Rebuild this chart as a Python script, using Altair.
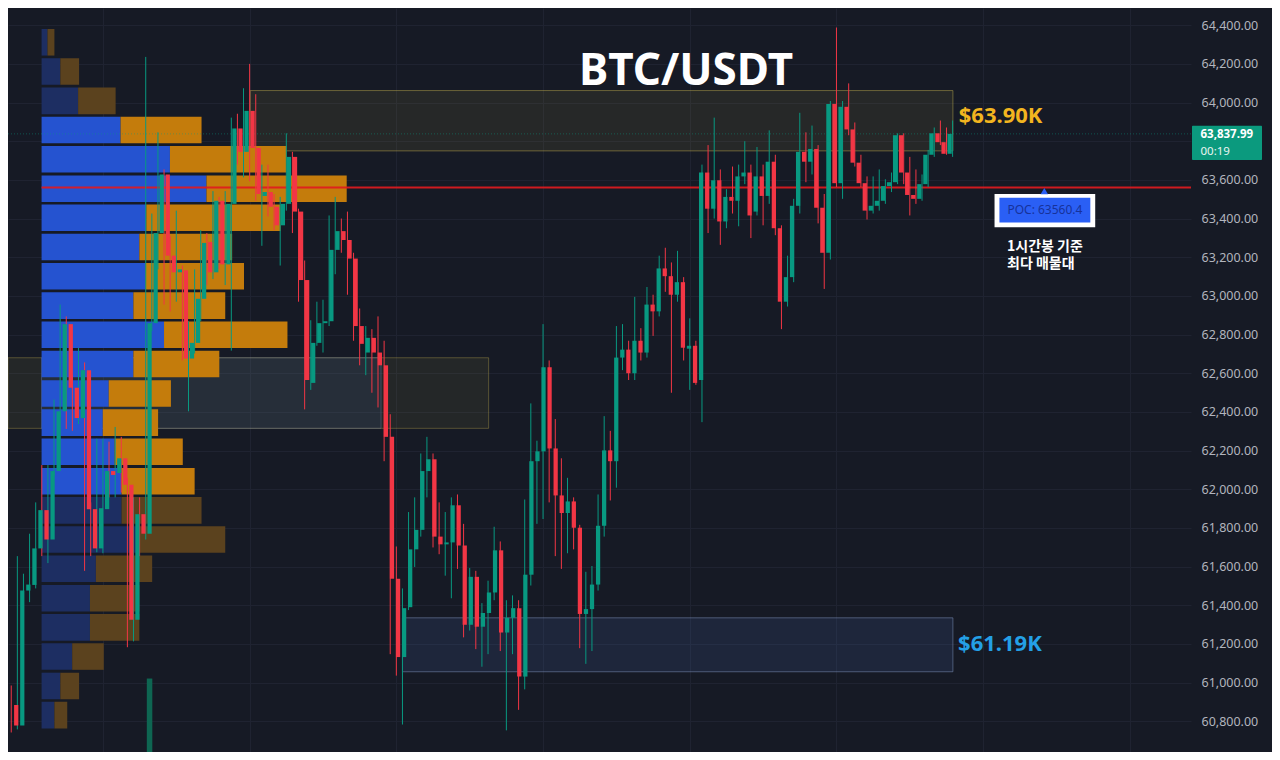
import altair as alt
import pandas as pd

# ---------------- data ----------------
opens = [60884, 60778, 61476, 61505, 61694, 61892, 61740, 62094, 62403, 62854,
         62525, 62368, 62616, 61897, 61694, 61897, 62094, 62084, 62160, 62023,
         61325, 61871, 61770, 62859, 63325, 63628, 63208, 63122, 63132, 62676,
         62757, 62985, 63279, 63122, 63492, 63163, 63476, 63866, 63745, 63957,
         63765, 63517, 63537, 63461, 63365, 63476, 63719, 63436, 63082, 62550,
         62757, 62859, 62869, 63238, 63335, 63289, 63193, 62844, 62707, 62783,
         62707, 62641, 62271, 61537, 61132, 61390, 61689, 61790, 62094, 62155,
         61755, 61715, 61725, 61917, 61709, 61299, 61547, 61289, 61360, 61466,
         61684, 61259, 61335, 61385, 61031, 61558, 62145, 62196, 62631, 62211,
         61968, 61877, 61937, 61801, 61355, 61380, 61507, 61811, 62201, 62145,
         62681, 62722, 62600, 62768, 62707, 62955, 62920, 63142, 63102, 63006,
         63071, 62727, 62742, 62565, 63638, 63451, 63598, 63385, 63512, 63492,
         63618, 63638, 63436, 63618, 63517, 63694, 63350, 62970, 63097, 63466,
         63745, 63694, 63760, 63456, 63223, 63993, 63583, 63978, 63861, 63689,
         63583, 63441, 63466, 63492, 63568, 63588, 63831, 63638, 63522, 63502,
         63578, 63730, 63841, 63795, 63735]
highs = [60985, 61654, 61563, 61770, 61932, 62125, 62125, 62464, 62955, 62894,
         62590, 62732, 62656, 61932, 62261, 62261, 62246, 62322, 62271, 62059,
         61958, 61958, 64236, 63426, 63846, 63654, 63309, 63441, 63157, 62869,
         63137, 63340, 63325, 63542, 63512, 63542, 63922, 63942, 64074, 64200,
         64043, 63679, 63679, 63527, 63512, 63841, 63745, 63451, 63183, 62874,
         62970, 62980, 63416, 63512, 63400, 63436, 63223, 62935, 62844, 62828,
         62894, 62768, 62388, 61704, 61487, 61882, 61958, 62185, 62271, 62185,
         61932, 61882, 61958, 61973, 61821, 61593, 61578, 61411, 61527, 61806,
         61730, 61426, 61451, 61426, 61947, 62444, 62251, 62854, 62666, 62363,
         62160, 62059, 61958, 61816, 61573, 61603, 61973, 62378, 62302, 62844,
         62854, 62768, 62995, 62833, 63046, 63006, 63208, 63249, 63173, 63233,
         63097, 62884, 62768, 63679, 63780, 63922, 63654, 63552, 63669, 63679,
         63800, 63679, 63770, 63679, 63856, 63730, 63365, 63208, 63502, 63947,
         63846, 63881, 63780, 63527, 64008, 64388, 64008, 64099, 63897, 63730,
         63618, 63618, 63654, 63603, 63638, 63841, 63841, 63719, 63654, 63628,
         63755, 63871, 63907, 63871, 63907]
lows = [60742, 60758, 61350, 61416, 61487, 61654, 61618, 62069, 62373, 62312,
        62302, 62337, 61578, 61654, 61674, 61669, 61958, 61958, 61983, 61183,
        61213, 61654, 61740, 62818, 63137, 62955, 62920, 62970, 62666, 62403,
        62702, 62869, 63056, 63087, 63137, 63056, 62717, 63679, 63613, 63593,
        63492, 63259, 63411, 63340, 63157, 63441, 63325, 62970, 62413, 62514,
        62742, 62707, 62844, 63112, 63223, 63006, 62768, 62641, 62590, 62499,
        62423, 62145, 61147, 61036, 60783, 61375, 61598, 61755, 61958, 61699,
        61664, 61553, 61436, 61588, 61234, 61269, 61173, 61082, 61147, 61426,
        61163, 60753, 61147, 60859, 60965, 61502, 61821, 61846, 61932, 61654,
        61588, 61669, 61689, 61178, 61097, 61163, 61476, 61755, 61942, 62008,
        62616, 62565, 62565, 62666, 62681, 62793, 62894, 63021, 62499, 62970,
        62666, 62514, 62540, 62347, 63325, 63400, 63264, 63350, 63426, 63360,
        63578, 63299, 63416, 63365, 63476, 63314, 62828, 62945, 63071, 63426,
        63588, 63628, 63375, 63036, 63188, 63563, 63502, 63831, 63669, 63563,
        63395, 63426, 63441, 63476, 63537, 63578, 63578, 63416, 63476, 63492,
        63563, 63719, 63780, 63730, 63719]
closes = [60778, 61476, 61507, 61694, 61892, 61740, 62094, 62403, 62854, 62525,
          62368, 62616, 61897, 61694, 61902, 62094, 62074, 62160, 62023, 61325,
          61871, 61770, 62859, 63325, 63628, 63208, 63122, 63137, 62676, 62757,
          62985, 63274, 63122, 63492, 63163, 63476, 63866, 63745, 63957, 63765,
          63527, 63537, 63461, 63365, 63476, 63719, 63436, 63082, 62565, 62757,
          62859, 62869, 63238, 63335, 63289, 63193, 62844, 62752, 62783, 62707,
          62641, 62271, 61537, 61132, 61385, 61689, 61790, 62094, 62155, 61755,
          61715, 61725, 61917, 61709, 61299, 61547, 61289, 61360, 61466, 61684,
          61259, 61335, 61385, 61031, 61558, 62145, 62196, 62631, 62211, 61968,
          61877, 61937, 61801, 61355, 61380, 61507, 61811, 62201, 62145, 62681,
          62722, 62600, 62768, 62707, 62955, 62920, 63142, 63102, 63006, 63071,
          62732, 62742, 62550, 63638, 63451, 63598, 63385, 63512, 63492, 63618,
          63638, 63416, 63618, 63517, 63694, 63350, 62970, 63097, 63466, 63745,
          63694, 63760, 63456, 63223, 63993, 63583, 63978, 63861, 63689, 63583,
          63441, 63466, 63492, 63568, 63588, 63831, 63638, 63522, 63502, 63578,
          63730, 63841, 63795, 63735, 63837.99]

price_ticks = [60800, 61000, 61200, 61400, 61600, 61800, 62000, 62200, 62400, 62600,
               62800, 63000, 63200, 63400, 63600, 63800, 64000, 64200, 64400]
hidden_tick = 63800  # covered by the live-price tag in the reference
day_lines = [15, 39, 63, 87, 111, 135, 159, 183]

# volume profile (rows from bottom to top)
profile_bin_low = [60756, 60907, 61059, 61210, 61361, 61513, 61664, 61815, 61966, 62118,
                   62269, 62420, 62572, 62723, 62874, 63026, 63177, 63328, 63479, 63631,
                   63782, 63933, 64085, 64236]
profile_bin_size = 151.3
buy_vol = [130, 190, 310, 490, 490, 550, 990, 810, 810, 740, 620, 680,
           930, 1240, 930, 1050, 990, 1060, 1670, 1300, 800, 370, 190, 60]
sell_vol = [130, 190, 320, 500, 500, 570, 870, 810, 740, 690, 560, 630,
            870, 1250, 930, 1000, 940, 1360, 1420, 1180, 820, 380, 190, 70]
value_area_low = 61966
value_area_high = 63933
poc_price = 63560.4
last_price = 63837.99

# zones: left supply, left value box, upper resistance, lower support
zone_names = ["left_supply", "left_box", "upper", "lower"]
zone_x_start = [-0.53, 4.96, 39.1, 64.0]
zone_x_end = [78.1, 60.5, 154.05, 154.05]
zone_low = [62315, 62315, 63750, 61056]
zone_high = [62680, 62680, 64062, 61335]

spike_index = [22]
spike_top = [61021]

# ---------------- layout / style ----------------
W, H = 1183, 744
X_DOM = [-0.53, 193.0]
Y_DOM = [60641, 64489]
P_DOM = [-340, 11640]
BG = "#161a25"
GRID = "#1f2331"
GREEN = "#089981"
RED = "#f23645"
FONT = "Noto Sans"

XS = alt.Scale(domain=X_DOM, nice=False, zero=False)
YS = alt.Scale(domain=Y_DOM, nice=False, zero=False)
PS = alt.Scale(domain=P_DOM, nice=False, zero=False)

yaxis = alt.Axis(orient="right", values=price_ticks, format=",.2f", grid=True,
                 labelExpr=f"datum.value == {hidden_tick} ? '' : datum.label",
                 gridColor=GRID, gridWidth=1, domain=False, ticks=False, tickSize=0,
                 labelPadding=10, labelColor="#b2b5be", labelFont=FONT,
                 labelFontSize=12.5, labelOverlap=False, labelFlush=False, title=None)
xaxis = alt.Axis(values=day_lines, grid=True, gridColor=GRID, gridWidth=1,
                 labels=False, ticks=False, domain=False, title=None)


def X(field, axis=None):
    return alt.X(field, type="quantitative", scale=XS, axis=axis)


def Y(field):
    return alt.Y(field, type="quantitative", scale=YS, axis=yaxis)


# ---------------- frames ----------------
candles = pd.DataFrame({"i": list(range(len(opens))), "open": opens, "high": highs,
                        "low": lows, "close": closes})
candles["dir"] = ["up" if c >= o else "down" for o, c in zip(opens, closes)]

prof = pd.DataFrame({"lo": profile_bin_low, "buy": buy_vol, "sell": sell_vol})
prof["zero"] = 0
prof["total"] = prof["buy"] + prof["sell"]
prof["y1"] = prof["lo"] + 7
prof["y2"] = prof["lo"] + profile_bin_size - 7
va = [(lo >= value_area_low) and (lo < value_area_high) for lo in profile_bin_low]
prof["bc"] = ["#2553d0" if v else "#1d2e62" for v in va]
prof["sc"] = ["#c47c0c" if v else "#5b421e" for v in va]

zones = pd.DataFrame({"name": zone_names, "x0": zone_x_start, "x1": zone_x_end,
                      "lo": zone_low, "hi": zone_high})

# ---------------- layers ----------------
zone_layer = alt.Chart(zones).mark_rect(strokeWidth=1).encode(
    x=X("x0", xaxis), x2="x1", y=Y("lo"), y2="hi",
    fill=alt.Fill("name:N", legend=None, scale=alt.Scale(
        domain=zone_names,
        range=["rgba(210,200,80,0.075)", "rgba(60,90,160,0.14)",
               "rgba(210,200,80,0.085)", "rgba(70,100,170,0.17)"])),
    stroke=alt.Stroke("name:N", legend=None, scale=alt.Scale(
        domain=zone_names,
        range=["rgba(200,180,80,0.35)", "rgba(130,150,190,0.35)",
               "rgba(200,180,80,0.45)", "rgba(130,150,190,0.5)"])),
)

buy_layer = alt.Chart(prof).mark_rect().encode(
    x=alt.X("zero:Q", scale=PS, axis=None), x2="buy:Q",
    y=Y("y1"), y2="y2", color=alt.Color("bc:N", scale=None))
sell_layer = alt.Chart(prof).mark_rect().encode(
    x=alt.X("buy:Q", scale=PS, axis=None), x2="total:Q",
    y=Y("y1"), y2="y2", color=alt.Color("sc:N", scale=None))

poc_df = pd.DataFrame({"x0": [4.96], "x1": [X_DOM[1]], "p": [poc_price]})
poc_line = alt.Chart(poc_df).mark_rule(color="#e01a1f", strokeWidth=2, opacity=0.92).encode(
    x=X("x0"), x2="x1", y=Y("p"))

last_df = pd.DataFrame({"x0": [X_DOM[0]], "x1": [X_DOM[1]], "p": [last_price]})
last_line = alt.Chart(last_df).mark_rule(color=GREEN, strokeWidth=1, strokeDash=[1, 2],
                                         opacity=0.45).encode(
    x=X("x0"), x2="x1", y=Y("p"))

spike_df = pd.DataFrame({"i": spike_index, "top": spike_top, "bottom": [Y_DOM[0]]})
spike = alt.Chart(spike_df).mark_bar(size=5.5, color="#0e6652").encode(
    x=X("i"), y=Y("top"), y2="bottom")

dir_color = alt.Color("dir:N", legend=None,
                      scale=alt.Scale(domain=["up", "down"], range=[GREEN, RED]))
wicks = alt.Chart(candles).mark_rule(strokeWidth=1).encode(
    x=X("i"), y=Y("low"), y2="high", color=dir_color)
bodies = alt.Chart(candles).mark_bar(size=4.25).encode(
    x=X("i"), y=Y("open"), y2="close", color=dir_color)

# ---------------- annotations ----------------
title_df = pd.DataFrame({"i": [110.4], "p": [64093], "t": ["BTC/USDT"]})
title = alt.Chart(title_df).mark_text(font=FONT, fontWeight="bold", fontSize=44,
                                      color="#ffffff", align="center",
                                      baseline="alphabetic").encode(
    x=X("i"), y=Y("p"), text="t:N")

lvl_df = pd.DataFrame({"i": [155.0, 154.9], "p": [63895, 61163],
                       "t": ["$63.90K", "$61.19K"], "c": ["#f2b51f", "#24a0e6"]})
lvl_text = alt.Chart(lvl_df).mark_text(font=FONT, fontWeight="bold", fontSize=22,
                                       align="left", baseline="alphabetic").encode(
    x=X("i"), y=Y("p"), text="t:N", color=alt.Color("c:N", scale=None))

box_df = pd.DataFrame({"x0": [160.86, 161.66], "x1": [177.33, 176.53],
                       "lo": [63355, 63380], "hi": [63527, 63507],
                       "c": ["#ffffff", "#2a5ff5"]})
poc_box = alt.Chart(box_df).mark_rect().encode(
    x=X("x0"), x2="x1", y=Y("lo"), y2="hi", color=alt.Color("c:N", scale=None))

tri_df = pd.DataFrame({"i": [169.0], "p": [63542]})
poc_tri = alt.Chart(tri_df).mark_point(shape="triangle-up", filled=True, size=55,
                                       color="#2a5ff5", opacity=1).encode(
    x=X("i"), y=Y("p"))

poc_txt_df = pd.DataFrame({"i": [169.1], "p": [63442], "t": ["POC: 63560.4"]})
poc_txt = alt.Chart(poc_txt_df).mark_text(font=FONT, fontSize=12, color="#17329a",
                                          align="center", baseline="middle").encode(
    x=X("i"), y=Y("p"), text="t:N")

kr_df = pd.DataFrame({"i": [162.9, 162.9], "p": [63233, 63142],
                      "t": ["1시간봉 기준", "최다 매물대"]})
kr_txt = alt.Chart(kr_df).mark_text(font="Noto Sans CJK KR", fontWeight="bold",
                                    fontSize=14, color="#ffffff", align="left",
                                    baseline="alphabetic").encode(
    x=X("i"), y=Y("p"), text="t:N")

tag_df = pd.DataFrame({"lo": [63703], "hi": [63880]})
tag = alt.Chart(tag_df).mark_rect(color="#0b9a7e", cornerRadius=1).encode(
    x=alt.value(W + 1), x2=alt.value(W + 71), y=Y("lo"), y2="hi")
tag_txt_df = pd.DataFrame({"p": [63817, 63731], "t": ["63,837.99", "00:19"]})
tag_txt1 = alt.Chart(tag_txt_df.iloc[[0]]).mark_text(
    font=FONT, fontSize=11.5, fontWeight="bold", color="#ffffff", align="left",
    baseline="alphabetic").encode(x=alt.value(W + 9.5), y=Y("p"), text="t:N")
tag_txt2 = alt.Chart(tag_txt_df.iloc[[1]]).mark_text(
    font=FONT, fontSize=11.5, color="#e8f5f1", align="left",
    baseline="alphabetic").encode(x=alt.value(W + 9.5), y=Y("p"), text="t:N")

chart = alt.layer(
    zone_layer, buy_layer, sell_layer, poc_line, last_line, spike,
    wicks, bodies, title, lvl_text, poc_box, poc_tri, poc_txt, kr_txt,
    tag, tag_txt1, tag_txt2,
).resolve_scale(x="independent").properties(
    width=W, height=H,
    autosize=alt.AutoSizeParams(type="none"),
    padding={"left": 0, "top": 0, "right": 81, "bottom": 0},
).configure(background=BG).configure_view(stroke=None)

chart.save("out.html", embed_options={"renderer": "svg", "actions": False})
